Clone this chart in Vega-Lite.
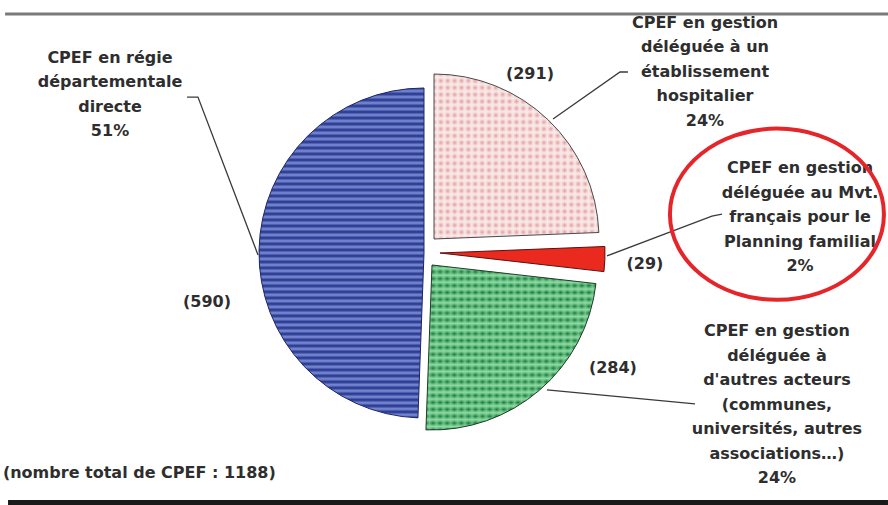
{
  "$schema": "https://vega.github.io/schema/vega-lite/v6.json",
  "width": 888,
  "height": 505,
  "autosize": {"type": "none"},
  "padding": 0,
  "background": "white",
  "config": {"view": {"stroke": null}, "text": {"font": "DejaVu Sans"}},
  "datasets": {
    "parts": [
      {"categorie": "Établissement hospitalier", "n": 291},
      {"categorie": "Mvt. français pour le Planning familial", "n": 29},
      {"categorie": "Autres acteurs", "n": 284},
      {"categorie": "Régie départementale directe", "n": 590}
    ],
    "etiquettes": [
      {"texte": ["CPEF en régie", "départementale", "directe", "51%"], "x": -190.3, "y": 118.2},
      {"texte": ["CPEF en gestion", "déléguée à un", "établissement", "hospitalier", "24%"], "x": 170.3, "y": 139.4},
      {"texte": ["CPEF en gestion", "déléguée au Mvt.", "français pour le", "Planning familial", "2%"], "x": 227.9, "y": 51.5},
      {"texte": ["CPEF en gestion", "déléguée à", "d'autres acteurs", "(communes,", "universités, autres", "associations…)", "24%"], "x": 213.9, "y": -47.3},
      {"texte": ["(291)"], "x": 64.2, "y": 108.5},
      {"texte": ["(590)"], "x": -131.5, "y": -29.7},
      {"texte": ["(29)"], "x": 133.9, "y": -6.7},
      {"texte": ["(284)"], "x": 114.5, "y": -69.7}
    ],
    "traits": [
      {"trait": "a", "k": 1, "x": -143.6, "y": 94.5},
      {"trait": "a", "k": 2, "x": -137.0, "y": 94.5},
      {"trait": "a", "k": 3, "x": -100.6, "y": -1.2},
      {"trait": "b", "k": 1, "x": 123.6, "y": 109.7},
      {"trait": "b", "k": 2, "x": 118.8, "y": 109.7},
      {"trait": "b", "k": 3, "x": 78.2, "y": 81.2},
      {"trait": "c", "k": 1, "x": 110.9, "y": -1.8},
      {"trait": "c", "k": 2, "x": 174.5, "y": 22.4},
      {"trait": "c", "k": 3, "x": 180.6, "y": 23.6},
      {"trait": "d", "k": 1, "x": 74.5, "y": -83.0},
      {"trait": "d", "k": 2, "x": 164.2, "y": -91.5}
    ],
    "un": [{}]
  },
  "layer": [
    {
      "data": {"name": "un"},
      "mark": {"type": "rule", "stroke": "#7a7a7a", "strokeWidth": 3},
      "encoding": {
        "x": {"datum": -253.9, "type": "quantitative", "scale": {"domain": [-256.97, 281.21], "nice": false, "zero": false}, "axis": null},
        "x2": {"datum": 281.2},
        "y": {"datum": 144.8, "type": "quantitative", "scale": {"domain": [-152.73, 153.33], "nice": false, "zero": false}, "axis": null}
      }
    },
    {
      "data": {"name": "un"},
      "mark": {"type": "rule", "stroke": "#1a1a1a", "strokeWidth": 5},
      "encoding": {
        "x": {"datum": -252.1, "type": "quantitative", "scale": {"domain": [-256.97, 281.21], "nice": false, "zero": false}, "axis": null},
        "x2": {"datum": 281.2},
        "y": {"datum": -151.2, "type": "quantitative", "scale": {"domain": [-152.73, 153.33], "nice": false, "zero": false}, "axis": null}
      }
    },
    {
      "data": {"name": "parts"},
      "transform": [
        {"stack": "n", "groupby": [], "as": ["debut", "fin"]},
        {"filter": {"field": "categorie", "equal": "Régie départementale directe"}}
      ],
      "mark": {
        "type": "arc", "radius": 165, "stroke": "#1c2566", "strokeWidth": 1,
        "fill": {"gradient": "linear", "x1": 0, "y1": 0, "x2": 0, "y2": 1, "stops": [
          {"offset":0,"color":"#22318a"},{"offset":0.0091,"color":"#7f90d8"},{"offset":0.0182,"color":"#22318a"},{"offset":0.0273,"color":"#7f90d8"},{"offset":0.0364,"color":"#22318a"},{"offset":0.0455,"color":"#7f90d8"},{"offset":0.0545,"color":"#22318a"},{"offset":0.0636,"color":"#7f90d8"},{"offset":0.0727,"color":"#22318a"},{"offset":0.0818,"color":"#7f90d8"},
          {"offset":0.0909,"color":"#22318a"},{"offset":0.1,"color":"#7f90d8"},{"offset":0.1091,"color":"#22318a"},{"offset":0.1182,"color":"#7f90d8"},{"offset":0.1273,"color":"#22318a"},{"offset":0.1364,"color":"#7f90d8"},{"offset":0.1455,"color":"#22318a"},{"offset":0.1545,"color":"#7f90d8"},{"offset":0.1636,"color":"#22318a"},{"offset":0.1727,"color":"#7f90d8"},
          {"offset":0.1818,"color":"#22318a"},{"offset":0.1909,"color":"#7f90d8"},{"offset":0.2,"color":"#22318a"},{"offset":0.2091,"color":"#7f90d8"},{"offset":0.2182,"color":"#22318a"},{"offset":0.2273,"color":"#7f90d8"},{"offset":0.2364,"color":"#22318a"},{"offset":0.2455,"color":"#7f90d8"},{"offset":0.2545,"color":"#22318a"},{"offset":0.2636,"color":"#7f90d8"},
          {"offset":0.2727,"color":"#22318a"},{"offset":0.2818,"color":"#7f90d8"},{"offset":0.2909,"color":"#22318a"},{"offset":0.3,"color":"#7f90d8"},{"offset":0.3091,"color":"#22318a"},{"offset":0.3182,"color":"#7f90d8"},{"offset":0.3273,"color":"#22318a"},{"offset":0.3364,"color":"#7f90d8"},{"offset":0.3455,"color":"#22318a"},{"offset":0.3545,"color":"#7f90d8"},
          {"offset":0.3636,"color":"#22318a"},{"offset":0.3727,"color":"#7f90d8"},{"offset":0.3818,"color":"#22318a"},{"offset":0.3909,"color":"#7f90d8"},{"offset":0.4,"color":"#22318a"},{"offset":0.4091,"color":"#7f90d8"},{"offset":0.4182,"color":"#22318a"},{"offset":0.4273,"color":"#7f90d8"},{"offset":0.4364,"color":"#22318a"},{"offset":0.4455,"color":"#7f90d8"},
          {"offset":0.4545,"color":"#22318a"},{"offset":0.4636,"color":"#7f90d8"},{"offset":0.4727,"color":"#22318a"},{"offset":0.4818,"color":"#7f90d8"},{"offset":0.4909,"color":"#22318a"},{"offset":0.5,"color":"#7f90d8"},{"offset":0.5091,"color":"#22318a"},{"offset":0.5182,"color":"#7f90d8"},{"offset":0.5273,"color":"#22318a"},{"offset":0.5364,"color":"#7f90d8"},
          {"offset":0.5455,"color":"#22318a"},{"offset":0.5545,"color":"#7f90d8"},{"offset":0.5636,"color":"#22318a"},{"offset":0.5727,"color":"#7f90d8"},{"offset":0.5818,"color":"#22318a"},{"offset":0.5909,"color":"#7f90d8"},{"offset":0.6,"color":"#22318a"},{"offset":0.6091,"color":"#7f90d8"},{"offset":0.6182,"color":"#22318a"},{"offset":0.6273,"color":"#7f90d8"},
          {"offset":0.6364,"color":"#22318a"},{"offset":0.6455,"color":"#7f90d8"},{"offset":0.6545,"color":"#22318a"},{"offset":0.6636,"color":"#7f90d8"},{"offset":0.6727,"color":"#22318a"},{"offset":0.6818,"color":"#7f90d8"},{"offset":0.6909,"color":"#22318a"},{"offset":0.7,"color":"#7f90d8"},{"offset":0.7091,"color":"#22318a"},{"offset":0.7182,"color":"#7f90d8"},
          {"offset":0.7273,"color":"#22318a"},{"offset":0.7364,"color":"#7f90d8"},{"offset":0.7455,"color":"#22318a"},{"offset":0.7545,"color":"#7f90d8"},{"offset":0.7636,"color":"#22318a"},{"offset":0.7727,"color":"#7f90d8"},{"offset":0.7818,"color":"#22318a"},{"offset":0.7909,"color":"#7f90d8"},{"offset":0.8,"color":"#22318a"},{"offset":0.8091,"color":"#7f90d8"},
          {"offset":0.8182,"color":"#22318a"},{"offset":0.8273,"color":"#7f90d8"},{"offset":0.8364,"color":"#22318a"},{"offset":0.8455,"color":"#7f90d8"},{"offset":0.8545,"color":"#22318a"},{"offset":0.8636,"color":"#7f90d8"},{"offset":0.8727,"color":"#22318a"},{"offset":0.8818,"color":"#7f90d8"},{"offset":0.8909,"color":"#22318a"},{"offset":0.9,"color":"#7f90d8"},
          {"offset":0.9091,"color":"#22318a"},{"offset":0.9182,"color":"#7f90d8"},{"offset":0.9273,"color":"#22318a"},{"offset":0.9364,"color":"#7f90d8"},{"offset":0.9455,"color":"#22318a"},{"offset":0.9545,"color":"#7f90d8"},{"offset":0.9636,"color":"#22318a"},{"offset":0.9727,"color":"#7f90d8"},{"offset":0.9818,"color":"#22318a"},{"offset":0.9909,"color":"#7f90d8"},
          {"offset":1,"color":"#22318a"}
        ]}
      },
      "encoding": {
        "x": {"datum": 0, "type": "quantitative", "scale": {"domain": [-256.97, 281.21], "nice": false, "zero": false}, "axis": null},
        "y": {"datum": 0, "type": "quantitative", "scale": {"domain": [-152.73, 153.33], "nice": false, "zero": false}, "axis": null},
        "theta": {"field": "debut", "type": "quantitative", "stack": null, "scale": {"domain": [0, 1194], "range": [0, 6.283185307]}},
        "theta2": {"field": "fin"}
      }
    },
    {
      "data": {"name": "parts"},
      "transform": [
        {"stack": "n", "groupby": [], "as": ["debut", "fin"]},
        {"filter": {"field": "categorie", "equal": "Établissement hospitalier"}}
      ],
      "mark": {
        "type": "arc", "radius": 165, "xOffset": 10, "yOffset": -14,
        "fill": {"gradient": "linear", "x1": 0, "y1": 0, "x2": 0, "y2": 1, "stops": [
          {"offset":0,"color":"#e39a9a"},{"offset":0.0208,"color":"#f9e9e9"},{"offset":0.0417,"color":"#e39a9a"},{"offset":0.0625,"color":"#f9e9e9"},{"offset":0.0833,"color":"#e39a9a"},{"offset":0.1042,"color":"#f9e9e9"},{"offset":0.125,"color":"#e39a9a"},{"offset":0.1458,"color":"#f9e9e9"},{"offset":0.1667,"color":"#e39a9a"},{"offset":0.1875,"color":"#f9e9e9"},
          {"offset":0.2083,"color":"#e39a9a"},{"offset":0.2292,"color":"#f9e9e9"},{"offset":0.25,"color":"#e39a9a"},{"offset":0.2708,"color":"#f9e9e9"},{"offset":0.2917,"color":"#e39a9a"},{"offset":0.3125,"color":"#f9e9e9"},{"offset":0.3333,"color":"#e39a9a"},{"offset":0.3542,"color":"#f9e9e9"},{"offset":0.375,"color":"#e39a9a"},{"offset":0.3958,"color":"#f9e9e9"},
          {"offset":0.4167,"color":"#e39a9a"},{"offset":0.4375,"color":"#f9e9e9"},{"offset":0.4583,"color":"#e39a9a"},{"offset":0.4792,"color":"#f9e9e9"},{"offset":0.5,"color":"#e39a9a"},{"offset":0.5208,"color":"#f9e9e9"},{"offset":0.5417,"color":"#e39a9a"},{"offset":0.5625,"color":"#f9e9e9"},{"offset":0.5833,"color":"#e39a9a"},{"offset":0.6042,"color":"#f9e9e9"},
          {"offset":0.625,"color":"#e39a9a"},{"offset":0.6458,"color":"#f9e9e9"},{"offset":0.6667,"color":"#e39a9a"},{"offset":0.6875,"color":"#f9e9e9"},{"offset":0.7083,"color":"#e39a9a"},{"offset":0.7292,"color":"#f9e9e9"},{"offset":0.75,"color":"#e39a9a"},{"offset":0.7708,"color":"#f9e9e9"},{"offset":0.7917,"color":"#e39a9a"},{"offset":0.8125,"color":"#f9e9e9"},
          {"offset":0.8333,"color":"#e39a9a"},{"offset":0.8542,"color":"#f9e9e9"},{"offset":0.875,"color":"#e39a9a"},{"offset":0.8958,"color":"#f9e9e9"},{"offset":0.9167,"color":"#e39a9a"},{"offset":0.9375,"color":"#f9e9e9"},{"offset":0.9583,"color":"#e39a9a"},{"offset":0.9792,"color":"#f9e9e9"},{"offset":1,"color":"#e39a9a"}
        ]}
      },
      "encoding": {
        "x": {"datum": 0, "type": "quantitative", "scale": {"domain": [-256.97, 281.21], "nice": false, "zero": false}, "axis": null},
        "y": {"datum": 0, "type": "quantitative", "scale": {"domain": [-152.73, 153.33], "nice": false, "zero": false}, "axis": null},
        "theta": {"field": "debut", "type": "quantitative", "stack": null, "scale": {"domain": [0, 1194], "range": [0, 6.283185307]}},
        "theta2": {"field": "fin"}
      }
    },
    {
      "data": {"name": "parts"},
      "transform": [
        {"stack": "n", "groupby": [], "as": ["debut", "fin"]},
        {"filter": {"field": "categorie", "equal": "Établissement hospitalier"}}
      ],
      "mark": {
        "type": "arc", "radius": 165, "xOffset": 10, "yOffset": -14, "stroke": "#4a4a4a", "strokeWidth": 1,
        "fill": {"gradient": "linear", "x1": 0, "y1": 0, "x2": 1, "y2": 0, "stops": [
          {"offset":0,"color":"rgba(249,233,233,0)"},{"offset":0.0208,"color":"rgba(249,233,233,1)"},{"offset":0.0417,"color":"rgba(249,233,233,0)"},{"offset":0.0625,"color":"rgba(249,233,233,1)"},{"offset":0.0833,"color":"rgba(249,233,233,0)"},{"offset":0.1042,"color":"rgba(249,233,233,1)"},{"offset":0.125,"color":"rgba(249,233,233,0)"},{"offset":0.1458,"color":"rgba(249,233,233,1)"},{"offset":0.1667,"color":"rgba(249,233,233,0)"},{"offset":0.1875,"color":"rgba(249,233,233,1)"},
          {"offset":0.2083,"color":"rgba(249,233,233,0)"},{"offset":0.2292,"color":"rgba(249,233,233,1)"},{"offset":0.25,"color":"rgba(249,233,233,0)"},{"offset":0.2708,"color":"rgba(249,233,233,1)"},{"offset":0.2917,"color":"rgba(249,233,233,0)"},{"offset":0.3125,"color":"rgba(249,233,233,1)"},{"offset":0.3333,"color":"rgba(249,233,233,0)"},{"offset":0.3542,"color":"rgba(249,233,233,1)"},{"offset":0.375,"color":"rgba(249,233,233,0)"},{"offset":0.3958,"color":"rgba(249,233,233,1)"},
          {"offset":0.4167,"color":"rgba(249,233,233,0)"},{"offset":0.4375,"color":"rgba(249,233,233,1)"},{"offset":0.4583,"color":"rgba(249,233,233,0)"},{"offset":0.4792,"color":"rgba(249,233,233,1)"},{"offset":0.5,"color":"rgba(249,233,233,0)"},{"offset":0.5208,"color":"rgba(249,233,233,1)"},{"offset":0.5417,"color":"rgba(249,233,233,0)"},{"offset":0.5625,"color":"rgba(249,233,233,1)"},{"offset":0.5833,"color":"rgba(249,233,233,0)"},{"offset":0.6042,"color":"rgba(249,233,233,1)"},
          {"offset":0.625,"color":"rgba(249,233,233,0)"},{"offset":0.6458,"color":"rgba(249,233,233,1)"},{"offset":0.6667,"color":"rgba(249,233,233,0)"},{"offset":0.6875,"color":"rgba(249,233,233,1)"},{"offset":0.7083,"color":"rgba(249,233,233,0)"},{"offset":0.7292,"color":"rgba(249,233,233,1)"},{"offset":0.75,"color":"rgba(249,233,233,0)"},{"offset":0.7708,"color":"rgba(249,233,233,1)"},{"offset":0.7917,"color":"rgba(249,233,233,0)"},{"offset":0.8125,"color":"rgba(249,233,233,1)"},
          {"offset":0.8333,"color":"rgba(249,233,233,0)"},{"offset":0.8542,"color":"rgba(249,233,233,1)"},{"offset":0.875,"color":"rgba(249,233,233,0)"},{"offset":0.8958,"color":"rgba(249,233,233,1)"},{"offset":0.9167,"color":"rgba(249,233,233,0)"},{"offset":0.9375,"color":"rgba(249,233,233,1)"},{"offset":0.9583,"color":"rgba(249,233,233,0)"},{"offset":0.9792,"color":"rgba(249,233,233,1)"},{"offset":1,"color":"rgba(249,233,233,0)"}
        ]}
      },
      "encoding": {
        "x": {"datum": 0, "type": "quantitative", "scale": {"domain": [-256.97, 281.21], "nice": false, "zero": false}, "axis": null},
        "y": {"datum": 0, "type": "quantitative", "scale": {"domain": [-152.73, 153.33], "nice": false, "zero": false}, "axis": null},
        "theta": {"field": "debut", "type": "quantitative", "stack": null, "scale": {"domain": [0, 1194], "range": [0, 6.283185307]}},
        "theta2": {"field": "fin"}
      }
    },
    {
      "data": {"name": "parts"},
      "transform": [
        {"stack": "n", "groupby": [], "as": ["debut", "fin"]},
        {"filter": {"field": "categorie", "equal": "Mvt. français pour le Planning familial"}}
      ],
      "mark": {"type": "arc", "radius": 165, "xOffset": 16, "yOffset": 0, "fill": "#ea2a1f", "stroke": "#5a1010", "strokeWidth": 1},
      "encoding": {
        "x": {"datum": 0, "type": "quantitative", "scale": {"domain": [-256.97, 281.21], "nice": false, "zero": false}, "axis": null},
        "y": {"datum": 0, "type": "quantitative", "scale": {"domain": [-152.73, 153.33], "nice": false, "zero": false}, "axis": null},
        "theta": {"field": "debut", "type": "quantitative", "stack": null, "scale": {"domain": [0, 1194], "range": [0, 6.283185307]}},
        "theta2": {"field": "fin"}
      }
    },
    {
      "data": {"name": "parts"},
      "transform": [
        {"stack": "n", "groupby": [], "as": ["debut", "fin"]},
        {"filter": {"field": "categorie", "equal": "Autres acteurs"}}
      ],
      "mark": {
        "type": "arc", "radius": 165, "xOffset": 8, "yOffset": 12,
        "fill": {"gradient": "linear", "x1": 0, "y1": 0, "x2": 0, "y2": 1, "stops": [
          {"offset":0,"color":"#127a38"},{"offset":0.0208,"color":"#8fdba3"},{"offset":0.0417,"color":"#127a38"},{"offset":0.0625,"color":"#8fdba3"},{"offset":0.0833,"color":"#127a38"},{"offset":0.1042,"color":"#8fdba3"},{"offset":0.125,"color":"#127a38"},{"offset":0.1458,"color":"#8fdba3"},{"offset":0.1667,"color":"#127a38"},{"offset":0.1875,"color":"#8fdba3"},
          {"offset":0.2083,"color":"#127a38"},{"offset":0.2292,"color":"#8fdba3"},{"offset":0.25,"color":"#127a38"},{"offset":0.2708,"color":"#8fdba3"},{"offset":0.2917,"color":"#127a38"},{"offset":0.3125,"color":"#8fdba3"},{"offset":0.3333,"color":"#127a38"},{"offset":0.3542,"color":"#8fdba3"},{"offset":0.375,"color":"#127a38"},{"offset":0.3958,"color":"#8fdba3"},
          {"offset":0.4167,"color":"#127a38"},{"offset":0.4375,"color":"#8fdba3"},{"offset":0.4583,"color":"#127a38"},{"offset":0.4792,"color":"#8fdba3"},{"offset":0.5,"color":"#127a38"},{"offset":0.5208,"color":"#8fdba3"},{"offset":0.5417,"color":"#127a38"},{"offset":0.5625,"color":"#8fdba3"},{"offset":0.5833,"color":"#127a38"},{"offset":0.6042,"color":"#8fdba3"},
          {"offset":0.625,"color":"#127a38"},{"offset":0.6458,"color":"#8fdba3"},{"offset":0.6667,"color":"#127a38"},{"offset":0.6875,"color":"#8fdba3"},{"offset":0.7083,"color":"#127a38"},{"offset":0.7292,"color":"#8fdba3"},{"offset":0.75,"color":"#127a38"},{"offset":0.7708,"color":"#8fdba3"},{"offset":0.7917,"color":"#127a38"},{"offset":0.8125,"color":"#8fdba3"},
          {"offset":0.8333,"color":"#127a38"},{"offset":0.8542,"color":"#8fdba3"},{"offset":0.875,"color":"#127a38"},{"offset":0.8958,"color":"#8fdba3"},{"offset":0.9167,"color":"#127a38"},{"offset":0.9375,"color":"#8fdba3"},{"offset":0.9583,"color":"#127a38"},{"offset":0.9792,"color":"#8fdba3"},{"offset":1,"color":"#127a38"}
        ]}
      },
      "encoding": {
        "x": {"datum": 0, "type": "quantitative", "scale": {"domain": [-256.97, 281.21], "nice": false, "zero": false}, "axis": null},
        "y": {"datum": 0, "type": "quantitative", "scale": {"domain": [-152.73, 153.33], "nice": false, "zero": false}, "axis": null},
        "theta": {"field": "debut", "type": "quantitative", "stack": null, "scale": {"domain": [0, 1194], "range": [0, 6.283185307]}},
        "theta2": {"field": "fin"}
      }
    },
    {
      "data": {"name": "parts"},
      "transform": [
        {"stack": "n", "groupby": [], "as": ["debut", "fin"]},
        {"filter": {"field": "categorie", "equal": "Autres acteurs"}}
      ],
      "mark": {
        "type": "arc", "radius": 165, "xOffset": 8, "yOffset": 12, "stroke": "#1f3d26", "strokeWidth": 1,
        "fill": {"gradient": "linear", "x1": 0, "y1": 0, "x2": 1, "y2": 0, "stops": [
          {"offset":0,"color":"rgba(143,219,163,0)"},{"offset":0.0208,"color":"rgba(143,219,163,0.65)"},{"offset":0.0417,"color":"rgba(143,219,163,0)"},{"offset":0.0625,"color":"rgba(143,219,163,0.65)"},{"offset":0.0833,"color":"rgba(143,219,163,0)"},{"offset":0.1042,"color":"rgba(143,219,163,0.65)"},{"offset":0.125,"color":"rgba(143,219,163,0)"},{"offset":0.1458,"color":"rgba(143,219,163,0.65)"},{"offset":0.1667,"color":"rgba(143,219,163,0)"},{"offset":0.1875,"color":"rgba(143,219,163,0.65)"},
          {"offset":0.2083,"color":"rgba(143,219,163,0)"},{"offset":0.2292,"color":"rgba(143,219,163,0.65)"},{"offset":0.25,"color":"rgba(143,219,163,0)"},{"offset":0.2708,"color":"rgba(143,219,163,0.65)"},{"offset":0.2917,"color":"rgba(143,219,163,0)"},{"offset":0.3125,"color":"rgba(143,219,163,0.65)"},{"offset":0.3333,"color":"rgba(143,219,163,0)"},{"offset":0.3542,"color":"rgba(143,219,163,0.65)"},{"offset":0.375,"color":"rgba(143,219,163,0)"},{"offset":0.3958,"color":"rgba(143,219,163,0.65)"},
          {"offset":0.4167,"color":"rgba(143,219,163,0)"},{"offset":0.4375,"color":"rgba(143,219,163,0.65)"},{"offset":0.4583,"color":"rgba(143,219,163,0)"},{"offset":0.4792,"color":"rgba(143,219,163,0.65)"},{"offset":0.5,"color":"rgba(143,219,163,0)"},{"offset":0.5208,"color":"rgba(143,219,163,0.65)"},{"offset":0.5417,"color":"rgba(143,219,163,0)"},{"offset":0.5625,"color":"rgba(143,219,163,0.65)"},{"offset":0.5833,"color":"rgba(143,219,163,0)"},{"offset":0.6042,"color":"rgba(143,219,163,0.65)"},
          {"offset":0.625,"color":"rgba(143,219,163,0)"},{"offset":0.6458,"color":"rgba(143,219,163,0.65)"},{"offset":0.6667,"color":"rgba(143,219,163,0)"},{"offset":0.6875,"color":"rgba(143,219,163,0.65)"},{"offset":0.7083,"color":"rgba(143,219,163,0)"},{"offset":0.7292,"color":"rgba(143,219,163,0.65)"},{"offset":0.75,"color":"rgba(143,219,163,0)"},{"offset":0.7708,"color":"rgba(143,219,163,0.65)"},{"offset":0.7917,"color":"rgba(143,219,163,0)"},{"offset":0.8125,"color":"rgba(143,219,163,0.65)"},
          {"offset":0.8333,"color":"rgba(143,219,163,0)"},{"offset":0.8542,"color":"rgba(143,219,163,0.65)"},{"offset":0.875,"color":"rgba(143,219,163,0)"},{"offset":0.8958,"color":"rgba(143,219,163,0.65)"},{"offset":0.9167,"color":"rgba(143,219,163,0)"},{"offset":0.9375,"color":"rgba(143,219,163,0.65)"},{"offset":0.9583,"color":"rgba(143,219,163,0)"},{"offset":0.9792,"color":"rgba(143,219,163,0.65)"},{"offset":1,"color":"rgba(143,219,163,0)"}
        ]}
      },
      "encoding": {
        "x": {"datum": 0, "type": "quantitative", "scale": {"domain": [-256.97, 281.21], "nice": false, "zero": false}, "axis": null},
        "y": {"datum": 0, "type": "quantitative", "scale": {"domain": [-152.73, 153.33], "nice": false, "zero": false}, "axis": null},
        "theta": {"field": "debut", "type": "quantitative", "stack": null, "scale": {"domain": [0, 1194], "range": [0, 6.283185307]}},
        "theta2": {"field": "fin"}
      }
    },
    {
      "data": {"name": "traits"},
      "mark": {"type": "line", "stroke": "#3a3a3a", "strokeWidth": 1.3},
      "encoding": {
        "x": {"field": "x", "type": "quantitative", "scale": {"domain": [-256.97, 281.21], "nice": false, "zero": false}, "axis": null},
        "y": {"field": "y", "type": "quantitative", "scale": {"domain": [-152.73, 153.33], "nice": false, "zero": false}, "axis": null},
        "detail": {"field": "trait", "type": "nominal"},
        "order": {"field": "k", "type": "quantitative"}
      }
    },
    {
      "data": {"name": "etiquettes"},
      "mark": {"type": "text", "font": "DejaVu Sans", "fontSize": 16, "fontWeight": "bold", "fill": "#2e2e2e", "align": "center", "baseline": "middle", "lineHeight": 24.5},
      "encoding": {
        "x": {"field": "x", "type": "quantitative", "scale": {"domain": [-256.97, 281.21], "nice": false, "zero": false}, "axis": null},
        "y": {"field": "y", "type": "quantitative", "scale": {"domain": [-152.73, 153.33], "nice": false, "zero": false}, "axis": null},
        "text": {"field": "texte"}
      }
    },
    {
      "data": {"name": "un"},
      "mark": {"type": "text", "font": "DejaVu Sans", "fontSize": 16, "fontWeight": "bold", "fill": "#2e2e2e", "align": "left", "baseline": "middle"},
      "encoding": {
        "x": {"datum": -255.2, "type": "quantitative", "scale": {"domain": [-256.97, 281.21], "nice": false, "zero": false}, "axis": null},
        "y": {"datum": -133.3, "type": "quantitative", "scale": {"domain": [-152.73, 153.33], "nice": false, "zero": false}, "axis": null},
        "text": {"value": "(nombre total de CPEF : 1188)"}
      }
    },
    {
      "data": {"name": "un"},
      "mark": {"type": "point", "shape": "M -1 0 A 1 0.8 0 1 1 1 0 A 1 0.8 0 1 1 -1 0 Z", "size": 45796, "filled": false, "stroke": "#e4262b", "strokeWidth": 4, "opacity": 1},
      "encoding": {
        "x": {"datum": 213.9, "type": "quantitative", "scale": {"domain": [-256.97, 281.21], "nice": false, "zero": false}, "axis": null},
        "y": {"datum": 23.5, "type": "quantitative", "scale": {"domain": [-152.73, 153.33], "nice": false, "zero": false}, "axis": null}
      }
    }
  ]
}
